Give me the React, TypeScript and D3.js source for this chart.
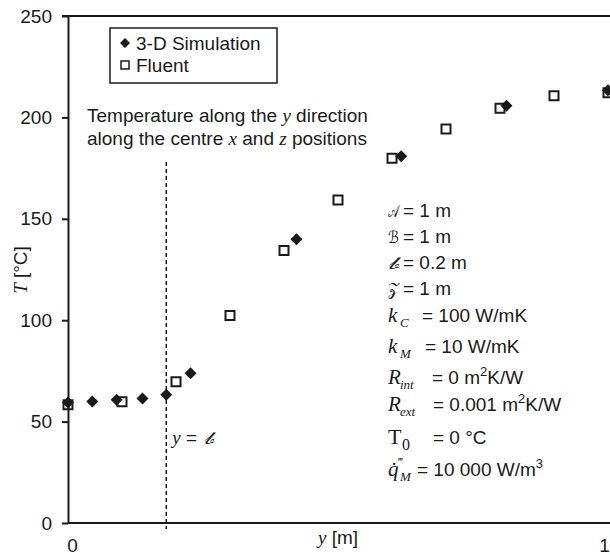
import React, { useEffect, useRef } from 'react';
import * as d3 from 'd3';

// 3-D simulation (filled diamonds)
const simY = [0, 0.045, 0.09, 0.138, 0.182, 0.227, 0.423, 0.617, 0.812, 1.0];
const simT = [59.4, 59.9, 60.8, 61.4, 63.2, 73.9, 139.9, 180.8, 205.8, 213.4];

// Fluent (open squares)
const fluentY = [0, 0.1, 0.2, 0.3, 0.4, 0.5, 0.6, 0.7, 0.8, 0.9, 1.0];
const fluentT = [58.3, 59.8, 69.6, 102.3, 134.4, 159.3, 179.9, 194.3, 204.5, 210.7, 212.2];

const yTicks = [0, 50, 100, 150, 200, 250];
const xTicks = [0, 1];
const interfaceY = 0.182; // y = b

const legendLabels = ['3-D Simulation', 'Fluent'];

const SANS = '"Liberation Sans", Arial, sans-serif';
const SERIF = '"Liberation Serif", "Times New Roman", serif';
const SCRIPT = '"DejaVu Serif", "DejaVu Sans", serif';
const FS = '19px';

const App = () => {
  const svgRef = useRef<SVGSVGElement>(null);

  useEffect(() => {
    const svg = d3.select(svgRef.current);
    svg.selectAll('*').remove();

    const x = d3.scaleLinear().domain([0, 1]).range([68, 608]);
    const y = d3.scaleLinear().domain([0, 250]).range([523, 16]);
    const ink = '#1a1a1a';

    // top frame line
    svg.append('line')
      .attr('x1', 62).attr('x2', 612)
      .attr('y1', y(250)).attr('y2', y(250))
      .attr('stroke', ink).attr('stroke-width', 2);

    // y axis
    const gy = svg.append('g')
      .attr('transform', `translate(${x(0)},0)`)
      .call(d3.axisLeft(y).tickValues(yTicks).tickSize(6).tickSizeOuter(0).tickPadding(10));
    gy.selectAll('text')
      .style('font-family', SANS).style('font-size', FS).style('fill', ink);

    // x axis
    const gx = svg.append('g')
      .attr('transform', `translate(0,${y(0)})`)
      .call(d3.axisBottom(x).tickValues(xTicks).tickFormat(d3.format('d')).tickSize(0).tickSizeOuter(0).tickPadding(16));
    gx.selectAll('text')
      .style('font-family', SANS).style('font-size', FS).style('fill', ink);
    gx.selectAll('.tick').filter((d: any) => d === 0).select('text').attr('dx', 4);
    gx.selectAll('.tick').filter((d: any) => d === 1).select('text').attr('dx', -4);
    gx.select('.domain').attr('d', `M${x(0)},0H612`);

    svg.selectAll('.domain, .tick line')
      .style('stroke', ink).style('stroke-width', 2);

    // axis titles
    const yt = svg.append('text')
      .attr('transform', 'translate(27,270) rotate(-90)')
      .attr('text-anchor', 'middle')
      .style('font-size', FS).style('fill', ink);
    yt.append('tspan').style('font-family', SERIF).style('font-style', 'italic').text('T');
    yt.append('tspan').style('font-family', SANS).text(' [°C]');

    const xt = svg.append('text')
      .attr('x', 338).attr('y', 544)
      .attr('text-anchor', 'middle')
      .style('font-size', FS).style('fill', ink);
    xt.append('tspan').style('font-family', SERIF).style('font-style', 'italic').text('y');
    xt.append('tspan').style('font-family', SANS).text(' [m]');

    // dashed line at y = b
    svg.append('line')
      .attr('x1', x(interfaceY)).attr('x2', x(interfaceY))
      .attr('y1', 162).attr('y2', 529)
      .attr('stroke', ink).attr('stroke-width', 1.5)
      .attr('stroke-dasharray', '4,3');

    const yb = svg.append('text')
      .attr('x', x(interfaceY) + 6).attr('y', 444)
      .style('font-size', FS).style('fill', ink);
    yb.append('tspan').style('font-family', SERIF).style('font-style', 'italic').text('y');
    yb.append('tspan').style('font-family', SANS).text(' = ');
    svg.append('text')
      .attr('x', x(interfaceY) + 38).attr('y', 444)
      .attr('textLength', 10).attr('lengthAdjust', 'spacingAndGlyphs')
      .style('font-family', SCRIPT).style('font-size', '17px').style('fill', ink)
      .text('𝒷');

    // annotation
    const a1 = svg.append('text').attr('x', 87).attr('y', 122)
      .style('font-family', SANS).style('font-size', FS).style('fill', ink);
    a1.append('tspan').text('Temperature along the ');
    a1.append('tspan').style('font-family', SERIF).style('font-style', 'italic').text('y');
    a1.append('tspan').text(' direction');
    const a2 = svg.append('text').attr('x', 87).attr('y', 145)
      .style('font-family', SANS).style('font-size', FS).style('fill', ink);
    a2.append('tspan').text('along the centre ');
    a2.append('tspan').style('font-family', SERIF).style('font-style', 'italic').text('x');
    a2.append('tspan').text(' and ');
    a2.append('tspan').style('font-family', SERIF).style('font-style', 'italic').text('z');
    a2.append('tspan').text(' positions');

    // markers
    const square = d3.symbol(d3.symbolSquare, 81);
    const diamond = d3.symbol(d3.symbolSquare, 72);

    svg.append('g').selectAll('path')
      .data(fluentY.map((v, i) => [v, fluentT[i]]))
      .enter().append('path')
      .attr('d', square)
      .attr('transform', d => `translate(${x(d[0])},${y(d[1])})`)
      .attr('fill', 'none').attr('stroke', ink).attr('stroke-width', 2);

    svg.append('g').selectAll('path')
      .data(simY.map((v, i) => [v, simT[i]]))
      .enter().append('path')
      .attr('d', diamond)
      .attr('transform', d => `translate(${x(d[0])},${y(d[1])}) rotate(45)`)
      .attr('fill', ink);

    // legend
    svg.append('rect')
      .attr('x', 110).attr('y', 28).attr('width', 167).attr('height', 55)
      .attr('fill', 'white').attr('stroke', ink).attr('stroke-width', 1.5);
    svg.append('path')
      .attr('d', d3.symbol(d3.symbolSquare, 50))
      .attr('transform', 'translate(125,43) rotate(45)')
      .attr('fill', ink);
    svg.append('path')
      .attr('d', d3.symbol(d3.symbolSquare, 64))
      .attr('transform', 'translate(125,65)')
      .attr('fill', 'none').attr('stroke', ink).attr('stroke-width', 1.5);
    legendLabels.forEach((t, i) => {
      svg.append('text')
        .attr('x', 136).attr('y', 50 + i * 22)
        .style('font-family', SANS).style('font-size', FS).style('fill', ink)
        .text(t);
    });

    // parameter list
    const params: { sym: string; font: string; italic: boolean; script?: boolean; sub?: string; sup?: string; eqX: number; rest: string; unitSup?: string; tail?: string; cy: number }[] = [
      { sym: '𝒜', font: SCRIPT, italic: false, script: true, eqX: 403, rest: '= 1 m', cy: 210 },
      { sym: 'ℬ', font: SCRIPT, italic: false, script: true, eqX: 403, rest: '= 1 m', cy: 236 },
      { sym: '𝒷', font: SCRIPT, italic: false, script: true, eqX: 403, rest: '= 0.2 m', cy: 262 },
      { sym: '𝒵', font: SCRIPT, italic: false, script: true, eqX: 403, rest: '= 1 m', cy: 288 },
      { sym: 'k', font: SERIF, italic: true, sub: 'C', eqX: 422, rest: '= 100 W/mK', cy: 315 },
      { sym: 'k', font: SERIF, italic: true, sub: 'M', eqX: 425, rest: '= 10 W/mK', cy: 346 },
      { sym: 'R', font: SERIF, italic: true, sub: 'int', eqX: 432, rest: '= 0 m', unitSup: '2', tail: 'K/W', cy: 377 },
      { sym: 'R', font: SERIF, italic: true, sub: 'ext', eqX: 433, rest: '= 0.001 m', unitSup: '2', tail: 'K/W', cy: 404 },
      { sym: 'T', font: SERIF, italic: false, sub: '0', eqX: 433, rest: '= 0 °C', cy: 437 },
      { sym: 'q̇', font: SERIF, italic: true, sub: 'M', sup: '‴', eqX: 417, rest: '= 10 000 W/m', unitSup: '3', cy: 469 },
    ];

    params.forEach(p => {
      const base = p.cy + 7;
      const s = svg.append('text')
        .attr('x', 388).attr('y', base)
        .style('font-family', p.font).style('font-style', p.italic ? 'italic' : 'normal')
        .style('font-size', p.sym === 'T' ? '22px' : p.script ? '17px' : '21px').style('fill', ink)
        .text(p.sym);
      if (p.script) s.attr('textLength', 11).attr('lengthAdjust', 'spacingAndGlyphs');
      if (p.sub) {
        svg.append('text')
          .attr('x', p.sym === 'T' ? 402 : 400).attr('y', base + (p.sym === 'T' ? 6 : 5))
          .style('font-family', SERIF).style('font-style', p.sym === 'T' ? 'normal' : 'italic')
          .style('font-size', p.sym === 'T' ? '16px' : '13px').style('fill', ink)
          .text(p.sub);
      }
      if (p.sup) {
        svg.append('text')
          .attr('x', 398).attr('y', base - 10)
          .style('font-family', SERIF).style('font-size', '12px').style('fill', ink)
          .text(p.sup);
      }
      const t = svg.append('text')
        .attr('x', p.eqX).attr('y', base)
        .style('font-family', SANS).style('font-size', FS).style('fill', ink);
      t.append('tspan').text(p.rest);
      if (p.unitSup) {
        t.append('tspan').attr('dy', -8).style('font-size', '13px').text(p.unitSup);
        if (p.tail) t.append('tspan').attr('dy', 8).text(p.tail);
      }
    });
  }, []);

  return (
    <svg
      ref={svgRef}
      width={610}
      height={555}
      style={{ position: 'absolute', left: 0, top: 0, background: 'white' }}
    />
  );
};

export default App;
